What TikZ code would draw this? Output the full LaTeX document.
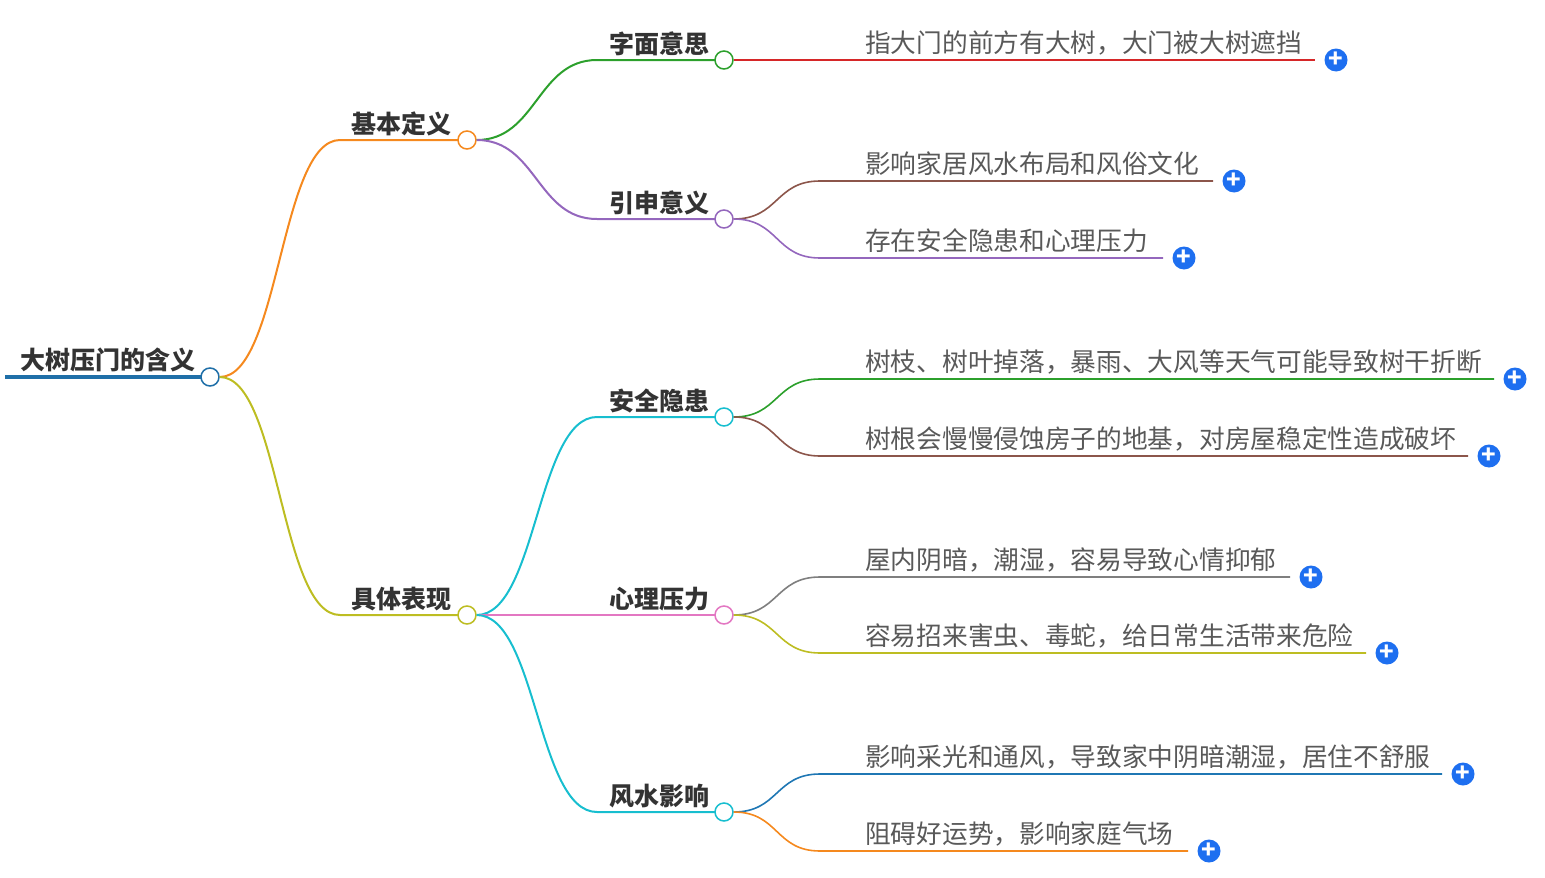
\documentclass[tikz,border=0pt]{standalone}
\usepackage{fontspec}
\setmainfont{Noto Sans CJK SC}
\usetikzlibrary{positioning,calc}
\definecolor{cRoot}{HTML}{1F6FA8}
\definecolor{cOrange}{HTML}{F5891E}
\definecolor{cOlive}{HTML}{BDBD22}
\definecolor{cGreen}{HTML}{2CA02C}
\definecolor{cPurple}{HTML}{9467BD}
\definecolor{cCyan}{HTML}{17BECF}
\definecolor{cPink}{HTML}{E377C2}
\definecolor{cRed}{HTML}{D62728}
\definecolor{cBrown}{HTML}{8C564B}
\definecolor{cGray}{HTML}{7F7F7F}
\definecolor{cBlue}{HTML}{1F77B4}
\definecolor{cPlus}{HTML}{1E6FF0}
\tikzset{
  hub/.style={circle, draw=#1, fill=white, line width=1.5pt, minimum size=18pt, inner sep=0pt},
  lbl/.style={font=\fontsize{25}{28}\selectfont\bfseries, text=black!80, anchor=base east, inner sep=0pt},
  leaf/.style={font=\fontsize{25.7}{28}\selectfont, text=black!65, anchor=base west, inner sep=0pt},
  plus/.style={circle, fill=cPlus, minimum size=23pt, inner sep=0pt, text=white, font=\bfseries\fontsize{24}{24}\selectfont},
  link/.style={line width=2pt}
}
\newcommand{\branch}[4]{% from, to-start, to-end, color
  \draw[link, #4] (#1) .. controls +(60pt,0) and ($(#2)+(-60pt,0)$) .. (#2) -- (#3);}
\begin{document}
\begin{tikzpicture}[x=1pt, y=-1pt]
\useasboundingbox (0,0) rectangle (1545,878);
% root
\draw[line width=4pt, cRoot] (5,377) -- (201,377);
\node[lbl] (root) at (196,369) {大树压门的含义};
\node[hub=cRoot] (r) at (210,377) {};
% level one
\coordinate (a0) at (340,140); \coordinate (b0) at (340,615);
\branch{r.east}{a0}{458,140}{cOrange}
\branch{r.east}{b0}{458,615}{cOlive}
\node[lbl] (a) at (452,133) {基本定义};
\node[lbl] (b) at (452,608) {具体表现};
\node[hub=cOrange] (ha) at (467,140) {};
\node[hub=cOlive] (hb) at (467,615) {};
% level two
\coordinate (a1) at (597,60);  \coordinate (a2) at (597,219);
\coordinate (b1) at (597,417); \coordinate (b2) at (597,615); \coordinate (b3) at (597,812);
\branch{ha.east}{a1}{715,60}{cGreen}
\branch{ha.east}{a2}{715,219}{cPurple}
\branch{hb.east}{b1}{715,417}{cCyan}
\branch{hb.east}{b2}{715,615}{cPink}
\branch{hb.east}{b3}{715,812}{cCyan}
\node[lbl] at (710,53) {字面意思};
\node[lbl] at (710,212) {引申意义};
\node[lbl] at (710,410) {安全隐患};
\node[lbl] at (710,608) {心理压力};
\node[lbl] at (710,805) {风水影响};
\node[hub=cGreen] (ha1) at (724,60) {};
\node[hub=cPurple] (ha2) at (724,219) {};
\node[hub=cCyan] (hb1) at (724,417) {};
\node[hub=cPink] (hb2) at (724,615) {};
\node[hub=cCyan] (hb3) at (724,812) {};
% leaves
\foreach \src/\y/\e/\col/\txt in {
  ha1/60/1315/cRed/{指大门的前方有大树，大门被大树遮挡},
  ha2/181/1213/cBrown/{影响家居风水布局和风俗文化},
  ha2/258/1163/cPurple/{存在安全隐患和心理压力},
  hb1/379/1494/cGreen/{树枝、树叶掉落，暴雨、大风等天气可能导致树干折断},
  hb1/456/1468/cBrown/{树根会慢慢侵蚀房子的地基，对房屋稳定性造成破坏},
  hb2/577/1290/cGray/{屋内阴暗，潮湿，容易导致心情抑郁},
  hb2/653/1366/cOlive/{容易招来害虫、毒蛇，给日常生活带来危险},
  hb3/774/1442/cBlue/{影响采光和通风，导致家中阴暗潮湿，居住不舒服},
  hb3/851/1188/cOrange/{阻碍好运势，影响家庭气场}}{
  \coordinate (s) at (820,\y);
  \draw[line width=1.6pt, \col] (\src.east) .. controls +(45pt,0) and ($(s)+(-45pt,0)$) .. (s) -- (\e,\y);
  \node[leaf] at (865,\y-8) {\txt};
  \node[plus] at (\e+21,\y) {+};
}
\end{tikzpicture}
\end{document}
